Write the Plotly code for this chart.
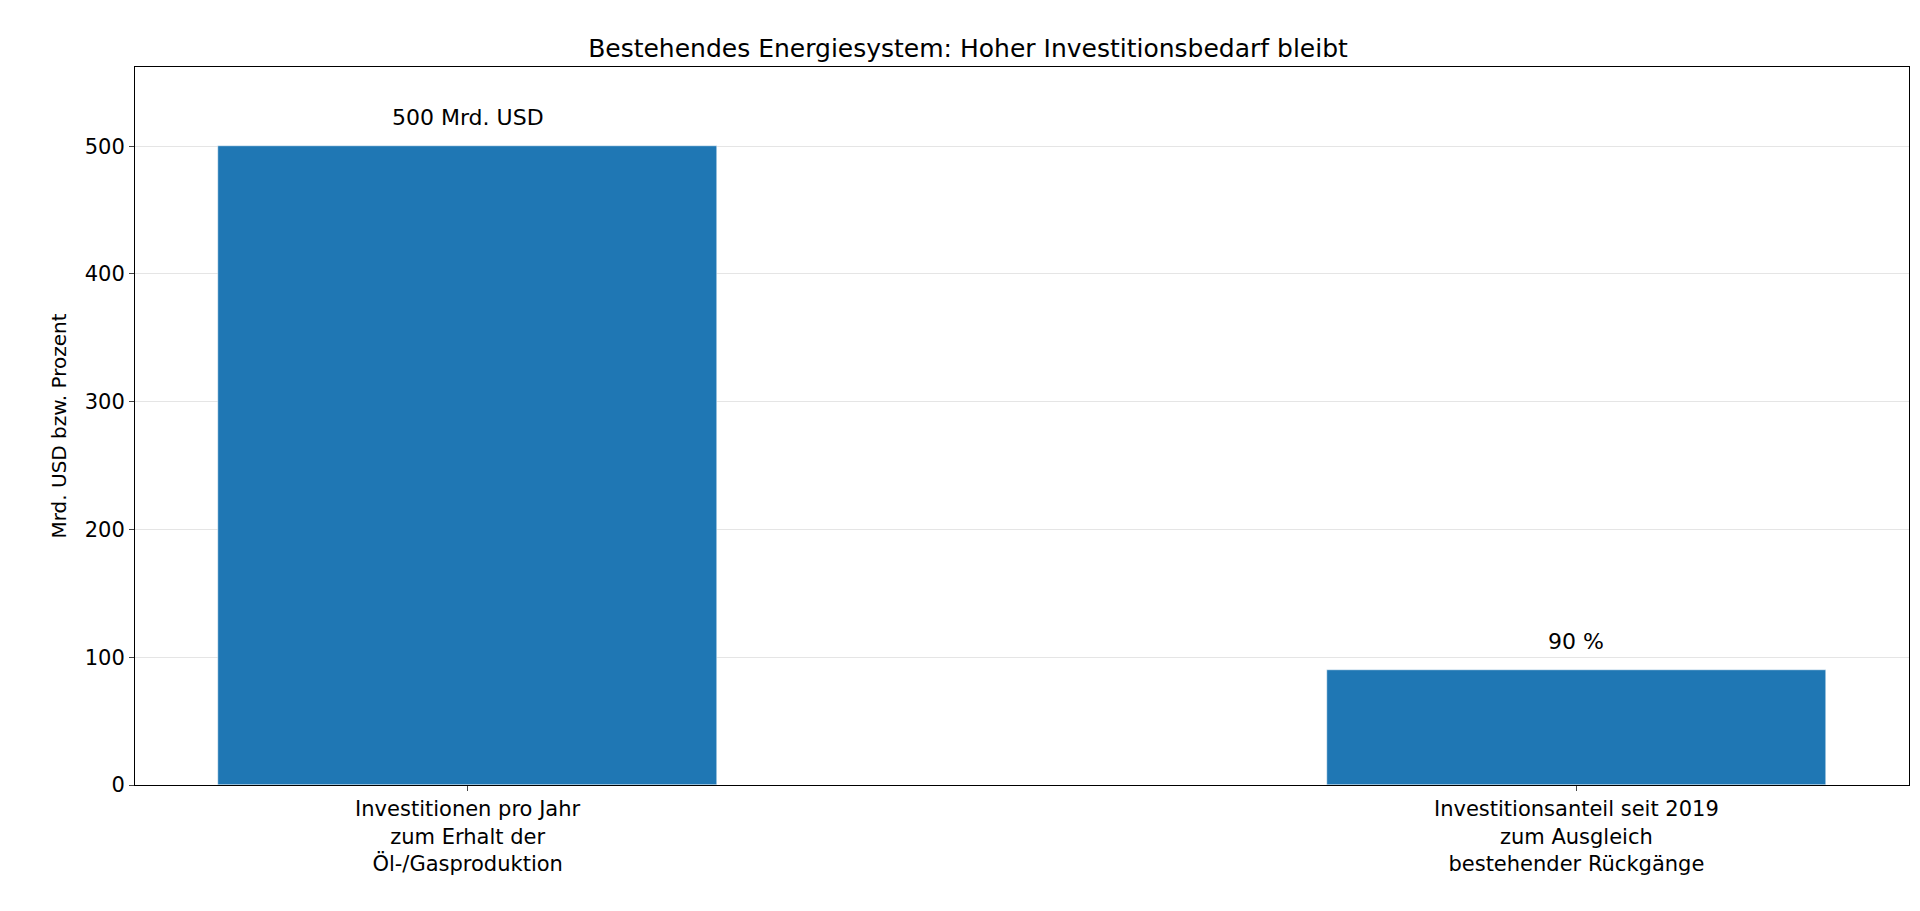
import plotly.graph_objects as go

categories = ["Investitionen pro Jahr<br>zum Erhalt der<br>Öl-/Gasproduktion",
              "Investitionsanteil seit 2019<br>zum Ausgleich<br>bestehender Rückgänge"]
values = [500, 90]
labels = ["500 Mrd. USD", "90 %"]

fig = go.Figure()
fig.add_trace(go.Bar(x=[0, 1], y=values, width=0.45, marker_color="#1f77b4"))

# value labels with a gap above each bar
for xi, yi, lab in zip([0, 1], values, labels):
    fig.add_annotation(x=xi, y=yi, text=lab, showarrow=False, yanchor="bottom",
                       yshift=14, font=dict(size=22, color="black"))

fig.update_layout(
    width=1920, height=911,
    template="simple_white",
    font=dict(family="DejaVu Sans", size=21, color="black"),
    title=dict(text="Bestehendes Energiesystem: Hoher Investitionsbedarf bleibt",
               x=0.5, xanchor="center", y=0.965, font=dict(size=25)),
    margin=dict(l=127, r=19, t=59, b=134),
    showlegend=False,
    bargap=0,
)
fig.update_xaxes(range=[-0.3, 1.3], tickvals=[0, 1], ticktext=categories,
                 showline=True, mirror=True, linecolor="black", ticks="outside")
fig.update_yaxes(range=[0, 562], tickvals=[0, 100, 200, 300, 400, 500],
                 showgrid=True, gridcolor="rgba(0,0,0,0.1)",
                 showline=True, mirror=True, linecolor="black", ticks="outside",
                 title=dict(text="Mrd. USD bzw. Prozent", font=dict(size=20), standoff=12))

fig.write_html("out.html")
